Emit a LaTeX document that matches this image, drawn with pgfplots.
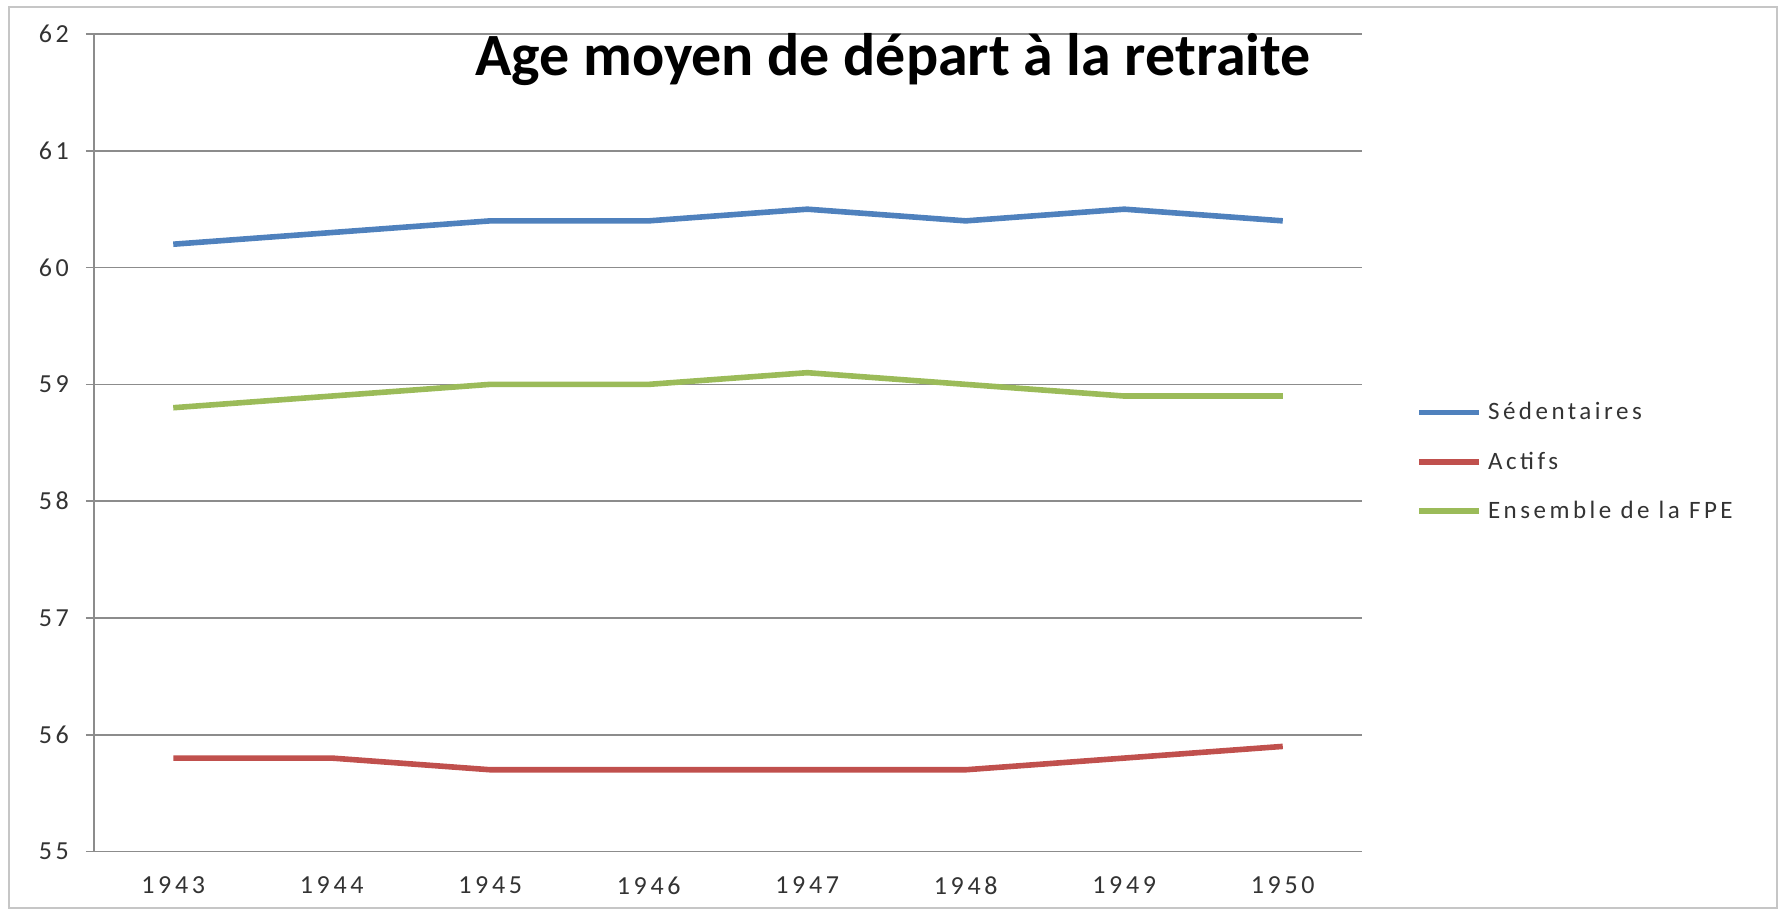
\documentclass[border=0pt]{standalone}
\usepackage{pgfplots}
\pgfplotsset{compat=1.18}
\usepackage{fontspec}
\setmainfont{Carlito}
\newfontfamily\tickfont[LetterSpace=14]{Carlito}
\definecolor{sblue}{HTML}{4F81BD}
\definecolor{sred}{HTML}{C0504D}
\definecolor{sgreen}{HTML}{9BBB59}
\definecolor{gridc}{HTML}{8C8C8C}
\begin{document}
\begin{tikzpicture}
\useasboundingbox (-47pt,-30.25pt) rectangle (843pt,425.75pt);
\draw[gray!45, line width=1pt] (-42.5pt,-28.25pt) rectangle (841.5pt,422.25pt);
\begin{axis}[
  at={(0,0)}, anchor=south west,
  scale only axis, width=634pt, height=408.75pt,
  xmin=-0.5, xmax=7.5, ymin=55, ymax=62,
  xtick={0,...,7},
  xticklabels={1943,1944,1945,1946,1947,1948,1949,1950},
  minor xtick={-0.5,0.5,...,7.5},
  ytick={55,...,62},
  axis x line*=bottom, axis y line*=left,
  axis line style={gridc, line width=0.8pt, -},
  tick align=outside,
  major tick length=4pt, minor tick length=4pt,
  xtick style={draw=none},
  minor x tick style={gridc, line width=0.8pt},
  ytick style={gridc, line width=0.8pt},
  ymajorgrids,
  grid style={gridc, line width=0.8pt},
  /pgf/number format/assume math mode=true,
  ticklabel style={font=\tickfont\fontsize{13}{14}\selectfont, text=black!80},
  yticklabel style={xshift=-5pt},
  xticklabel style={yshift=-5pt},
  legend style={draw=none, fill=none, at={(1.0426,0.4765)}, anchor=west,
    font=\tickfont\fontsize{12.5}{13}\selectfont, text=black!80, row sep=10.5pt,
    inner sep=0pt, nodes={inner xsep=3pt}},
  legend cell align=left,
  legend image code/.code={\draw[#1] (0pt,0pt) -- (30pt,0pt);},
  every axis plot/.append style={line width=2.8pt, line join=round},
]
\addplot[sblue] coordinates {(0,60.2) (1,60.3) (2,60.4) (3,60.4) (4,60.5) (5,60.4) (6,60.5) (7,60.4)};
\addlegendentry{Sédentaires}
\addplot[sred] coordinates {(0,55.8) (1,55.8) (2,55.7) (3,55.7) (4,55.7) (5,55.7) (6,55.8) (7,55.9)};
\addlegendentry{Actifs}
\addplot[sgreen] coordinates {(0,58.8) (1,58.9) (2,59.0) (3,59.0) (4,59.1) (5,59.0) (6,58.9) (7,58.9)};
\addlegendentry{Ensemble de la FPE}
\end{axis}
\node[font=\bfseries\fontsize{30}{34}\selectfont, anchor=center] at (399.5pt,396pt) {Age moyen de départ à la retraite};
\end{tikzpicture}
\end{document}
